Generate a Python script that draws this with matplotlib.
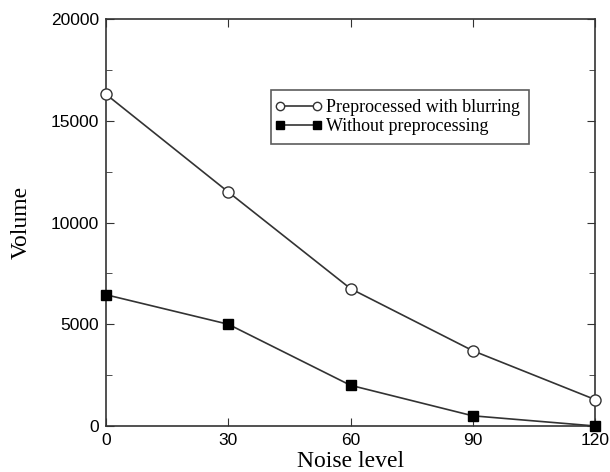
import matplotlib
matplotlib.use("Agg")
import matplotlib.pyplot as plt
from matplotlib.ticker import MultipleLocator
from matplotlib.lines import Line2D
from matplotlib.legend_handler import HandlerLine2D

noise = [0, 30, 60, 90, 120]
blur = [16300, 11500, 6750, 3700, 1300]
raw = [6450, 5000, 2000, 500, 0]
labels = ["Preprocessed with blurring", "Without preprocessing"]

fig = plt.figure(figsize=(6.1, 4.72), dpi=100)
ax = fig.add_axes([0.1738, 0.0975, 0.8016, 0.8622])
lc = "#333333"
ax.plot(noise, blur, color=lc, lw=1.2, marker="o", ms=8, mfc="white", mec=lc, mew=1.0,
        label=labels[0], clip_on=False, zorder=3)
ax.plot(noise, raw, color=lc, lw=1.2, marker="s", ms=7, mfc="black", mec="black",
        label=labels[1], clip_on=False, zorder=3)
ax.set_xlim(0, 120)
ax.set_ylim(0, 20000)
ax.xaxis.set_major_locator(MultipleLocator(30))
ax.yaxis.set_major_locator(MultipleLocator(5000))
ax.yaxis.set_minor_locator(MultipleLocator(2500))
ax.tick_params(which="both", direction="in", top=True, right=True, color=lc)
ax.tick_params(which="major", length=6)
ax.tick_params(which="minor", length=4)
for lab in ax.get_xticklabels() + ax.get_yticklabels():
    lab.set_fontfamily("Liberation Sans")
    lab.set_fontsize(12.5)
ax.tick_params(axis="x", pad=5)
ax.tick_params(axis="y", pad=5)
for s in ax.spines.values():
    s.set_color(lc)
    s.set_linewidth(1.2)
ax.set_xlabel("Noise level", fontfamily="Liberation Serif", fontsize=17, labelpad=2)
ax.set_ylabel("Volume", fontfamily="Liberation Serif", fontsize=17, labelpad=14)
leg = fig.legend(loc="upper left", bbox_to_anchor=(271 / 610, 1 - 90 / 472), frameon=True,
                 fancybox=False, edgecolor=lc, prop={"family": "Liberation Serif", "size": 13},
                 numpoints=2, markerscale=0.75, handlelength=2.05, handletextpad=0.5,
                 borderpad=0.5, labelspacing=0.12, borderaxespad=0,
                 handler_map={Line2D: HandlerLine2D(marker_pad=0)})
leg.get_frame().set_linewidth(1.2)
fig.savefig("out.png", dpi=100)
